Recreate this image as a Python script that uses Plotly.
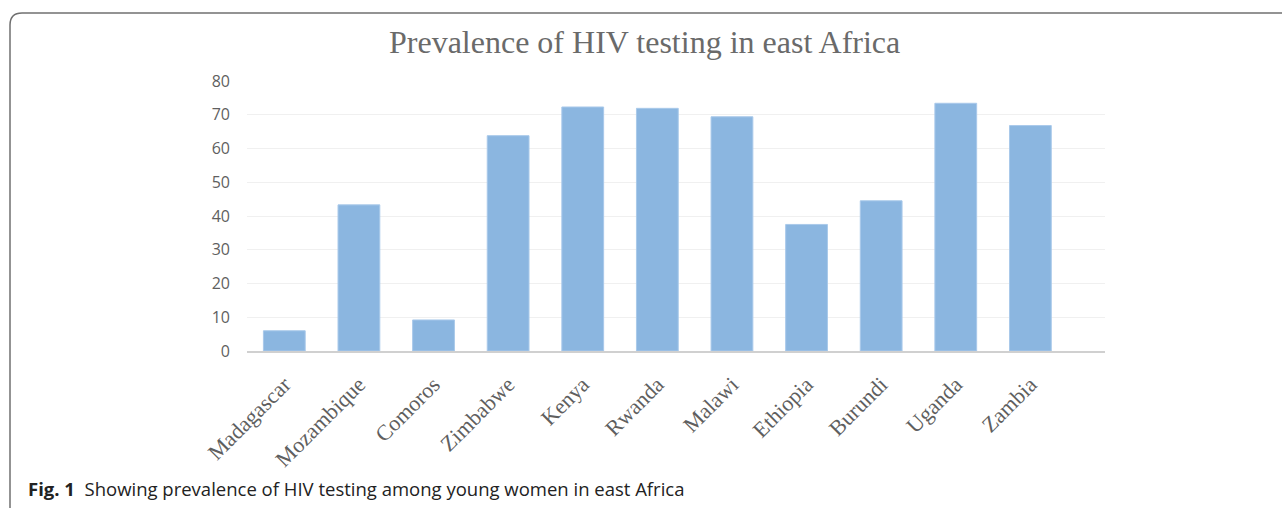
import plotly.graph_objects as go

countries = ["Madagascar", "Mozambique", "Comoros", "Zimbabwe", "Kenya", "Rwanda",
             "Malawi", "Ethiopia", "Burundi", "Uganda", "Zambia"]
prevalence = [6.0, 43.3, 9.2, 63.8, 72.3, 71.9, 69.4, 37.5, 44.5, 73.4, 66.8]
y_ticks = [0, 10, 20, 30, 40, 50, 60, 70, 80]

W, H = 1282, 508
L, R, T, B = 247, 1105, 81, 351  # plot area in pixels


def px(x):
    return (x - L) / (R - L)


def py(y):
    return (B - y) / (B - T)


fig = go.Figure()
fig.add_trace(go.Bar(
    x=countries, y=prevalence, width=0.56,
    marker=dict(color="#8bb6e0", line=dict(color="#a9c9ea", width=1)),
    showlegend=False,
))

fig.update_layout(
    width=W, height=H,
    margin=dict(l=L, r=W - R, t=T, b=H - B, autoexpand=False),
    paper_bgcolor="white", plot_bgcolor="white",
    xaxis=dict(
        range=[-0.5, 11.0], showgrid=False, zeroline=False,
        showline=True, linecolor="#d0d0d0", linewidth=2,
        tickangle=-45, ticks="", ticklen=0,
        tickfont=dict(family="Liberation Serif", size=22, color="#5f5f5f"),
        ticklabelstandoff=10,
        fixedrange=True,
    ),
    yaxis=dict(
        range=[0, 80], tickvals=y_ticks, showgrid=True, gridcolor="#f0f0f0",
        gridwidth=1, zeroline=False, showline=False, ticks="",
        tickfont=dict(family="Open Sans", size=16, color="#5f5f5f"),
        ticklabelstandoff=16,
    ),
    annotations=[
        dict(text="Prevalence of HIV testing in east Africa", xref="paper", yref="paper",
             x=px(644), y=py(42), xanchor="center", yanchor="middle", showarrow=False,
             font=dict(family="Liberation Serif", size=32, color="#6a6a6a")),
        dict(text="<b>Fig. 1</b>  Showing prevalence of HIV testing among young women in east Africa",
             xref="paper", yref="paper", x=px(26), y=py(488), xanchor="left", yanchor="middle",
             showarrow=False, font=dict(family="Open Sans", size=18.5, color="#222222")),
    ],
    shapes=[
        dict(type="path", xref="paper", yref="paper",
             path=f"M {px(10)},{py(508)} L {px(10)},{py(25)} Q {px(10)},{py(13)} {px(22)},{py(13)} L {px(1282)},{py(13)}",
             line=dict(color="#707070", width=1.5)),
    ],
)

fig.write_html("out.html", config={"displayModeBar": False},
               post_script="document.body.style.margin='0';document.body.style.overflow='hidden';")
